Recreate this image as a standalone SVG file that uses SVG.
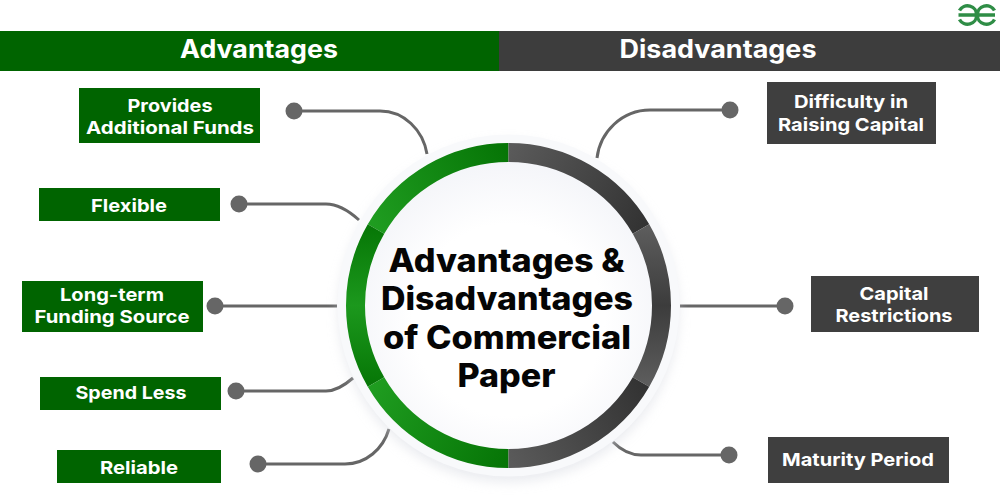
<svg xmlns="http://www.w3.org/2000/svg" width="1000" height="500" viewBox="0 0 1000 500">
<style>
text{font-family:Inter,"Liberation Sans",sans-serif;font-weight:700;text-anchor:middle}
.lbl{font-size:18px;fill:#fff}
.hd{font-size:25px;fill:#fff}
.ttl{font-size:32px;font-weight:800;fill:#050505}
.g{fill:#006400}.d{fill:#3f3f3f}
.c{fill:none;stroke:#666;stroke-width:3}
.dot{fill:#666}
.seg{fill:none;stroke-width:19}
.logo{fill:none;stroke:#2f8d46;stroke-width:3.500}
</style>
<defs>
<linearGradient id="g1" gradientUnits="userSpaceOnUse" x1="376" y1="229" x2="508" y2="153"><stop offset="0" stop-color="#1f9c20"/><stop offset="1" stop-color="#067506"/></linearGradient>
<linearGradient id="g2" gradientUnits="userSpaceOnUse" x1="0" y1="229" x2="0" y2="382"><stop offset="0" stop-color="#077807"/><stop offset=".5" stop-color="#1c981d"/><stop offset="1" stop-color="#077807"/></linearGradient>
<linearGradient id="g3" gradientUnits="userSpaceOnUse" x1="376" y1="382" x2="508" y2="458"><stop offset="0" stop-color="#1f9c20"/><stop offset="1" stop-color="#067506"/></linearGradient>
<linearGradient id="d1" gradientUnits="userSpaceOnUse" x1="508" y1="153" x2="641" y2="229"><stop offset="0" stop-color="#5a5a5a"/><stop offset="1" stop-color="#333"/></linearGradient>
<linearGradient id="d2" gradientUnits="userSpaceOnUse" x1="0" y1="229" x2="0" y2="382"><stop offset="0" stop-color="#5c5c5c"/><stop offset=".5" stop-color="#3c3c3c"/><stop offset="1" stop-color="#5c5c5c"/></linearGradient>
<linearGradient id="d3" gradientUnits="userSpaceOnUse" x1="641" y1="382" x2="508" y2="458"><stop offset="0" stop-color="#333"/><stop offset="1" stop-color="#5a5a5a"/></linearGradient>
<radialGradient id="disc" gradientUnits="userSpaceOnUse" cx="508.500" cy="320" r="160"><stop offset=".6" stop-color="#fff"/><stop offset="1" stop-color="#f4f5f9"/></radialGradient>
<filter id="sh" x="-20%" y="-20%" width="140%" height="140%"><feGaussianBlur stdDeviation="6"/></filter>
</defs>
<rect width="1000" height="500" fill="#fff"/>
<g id="logo">
<path class="logo" d="M958.500 15H976.500A9 8.500 0 0 0 959.500 10.500M976.500 15A9 8.500 0 0 1 959.500 19.500"/>
<path class="logo" d="M995 15H977.500A9 8.500 0 0 1 994.500 10.500M977.500 15A9 8.500 0 0 0 994.500 19.500"/>
</g>
<g id="header-advantages"><rect class="g" x="0" y="31" width="499" height="40"/><text class="hd" x="259" y="58" textLength="158" lengthAdjust="spacingAndGlyphs">Advantages</text></g>
<g id="header-disadvantages"><rect x="499" y="31" width="501" height="40" fill="#3d3d3d"/><text class="hd" x="718" y="58" textLength="197" lengthAdjust="spacingAndGlyphs">Disadvantages</text></g>
<g id="connectors">
<path class="c" d="M294 111H380C404 111 423 130 427 154"/>
<path class="c" d="M239 204H326C338 204 349 211 359 220"/>
<path class="c" d="M215 306H337"/>
<path class="c" d="M236 391H326C336 391 345 385 353 378"/>
<path class="c" d="M258 464H345C366 464 383 449 389 429"/>
<path class="c" d="M730 110H650C622 110 600 132 597 158"/>
<path class="c" d="M785 306H680"/>
<path class="c" d="M729 455H641C630 455 620 449 613 442"/>
<circle class="dot" cx="294" cy="111" r="8.500"/>
<circle class="dot" cx="239" cy="204" r="8.500"/>
<circle class="dot" cx="215" cy="306" r="8.500"/>
<circle class="dot" cx="236" cy="391" r="8.500"/>
<circle class="dot" cx="258" cy="464" r="8.500"/>
<circle class="dot" cx="730" cy="110" r="8.500"/>
<circle class="dot" cx="785" cy="306" r="8.500"/>
<circle class="dot" cx="729" cy="455" r="8.500"/>
</g>
<g id="hub">
<circle cx="508.500" cy="312" r="170" fill="#d5d8e0" opacity=".5" filter="url(#sh)"/>
<circle cx="508.500" cy="305.500" r="171" fill="#f8f9fb"/>
<circle cx="508.500" cy="305.500" r="144" fill="url(#disc)"/>
<path class="seg" stroke="url(#g1)" d="M376 229A153 153 0 0 1 508.500 152.500"/>
<path class="seg" stroke="url(#g2)" d="M376 229A153 153 0 0 0 376 382"/>
<path class="seg" stroke="url(#g3)" d="M376 382A153 153 0 0 0 508.500 458.500"/>
<path class="seg" stroke="url(#d1)" d="M508.500 152.500A153 153 0 0 1 641 229"/>
<path class="seg" stroke="url(#d2)" d="M641 229A153 153 0 0 1 641 382"/>
<path class="seg" stroke="url(#d3)" d="M641 382A153 153 0 0 1 508.500 458.500"/>
<text class="ttl" x="506.500" y="272" textLength="236" lengthAdjust="spacingAndGlyphs">Advantages &amp;</text>
<text class="ttl" x="507" y="310" textLength="252" lengthAdjust="spacingAndGlyphs">Disadvantages</text>
<text class="ttl" x="507" y="349" textLength="248" lengthAdjust="spacingAndGlyphs">of Commercial</text>
<text class="ttl" x="506.500" y="387" textLength="98" lengthAdjust="spacingAndGlyphs">Paper</text>
</g>
<g id="n1"><rect class="g" x="79" y="88" width="181" height="55"/><text class="lbl" x="170" y="112" textLength="85" lengthAdjust="spacingAndGlyphs">Provides</text><text class="lbl" x="170" y="134" textLength="168" lengthAdjust="spacingAndGlyphs">Additional Funds</text></g>
<g id="n2"><rect class="g" x="39" y="188" width="181" height="33"/><text class="lbl" x="129" y="212" textLength="76" lengthAdjust="spacingAndGlyphs">Flexible</text></g>
<g id="n3"><rect class="g" x="22" y="281" width="181" height="51"/><text class="lbl" x="112" y="301" textLength="104" lengthAdjust="spacingAndGlyphs">Long-term</text><text class="lbl" x="112" y="323" textLength="155" lengthAdjust="spacingAndGlyphs">Funding Source</text></g>
<g id="n4"><rect class="g" x="40" y="377" width="181" height="33"/><text class="lbl" x="131" y="399" textLength="111" lengthAdjust="spacingAndGlyphs">Spend Less</text></g>
<g id="n5"><rect class="g" x="57" y="450" width="164" height="33"/><text class="lbl" x="139" y="474" textLength="78" lengthAdjust="spacingAndGlyphs">Reliable</text></g>
<g id="n6"><rect class="d" x="767" y="82" width="169" height="62"/><text class="lbl" x="851" y="108" textLength="114" lengthAdjust="spacingAndGlyphs">Difficulty in</text><text class="lbl" x="851" y="131" textLength="146" lengthAdjust="spacingAndGlyphs">Raising Capital</text></g>
<g id="n7"><rect class="d" x="811" y="276" width="168" height="56"/><text class="lbl" x="894" y="300" textLength="69" lengthAdjust="spacingAndGlyphs">Capital</text><text class="lbl" x="894" y="322" textLength="117" lengthAdjust="spacingAndGlyphs">Restrictions</text></g>
<g id="n8"><rect class="d" x="768" y="437" width="181" height="46"/><text class="lbl" x="858" y="466" textLength="152" lengthAdjust="spacingAndGlyphs">Maturity Period</text></g>
</svg>
